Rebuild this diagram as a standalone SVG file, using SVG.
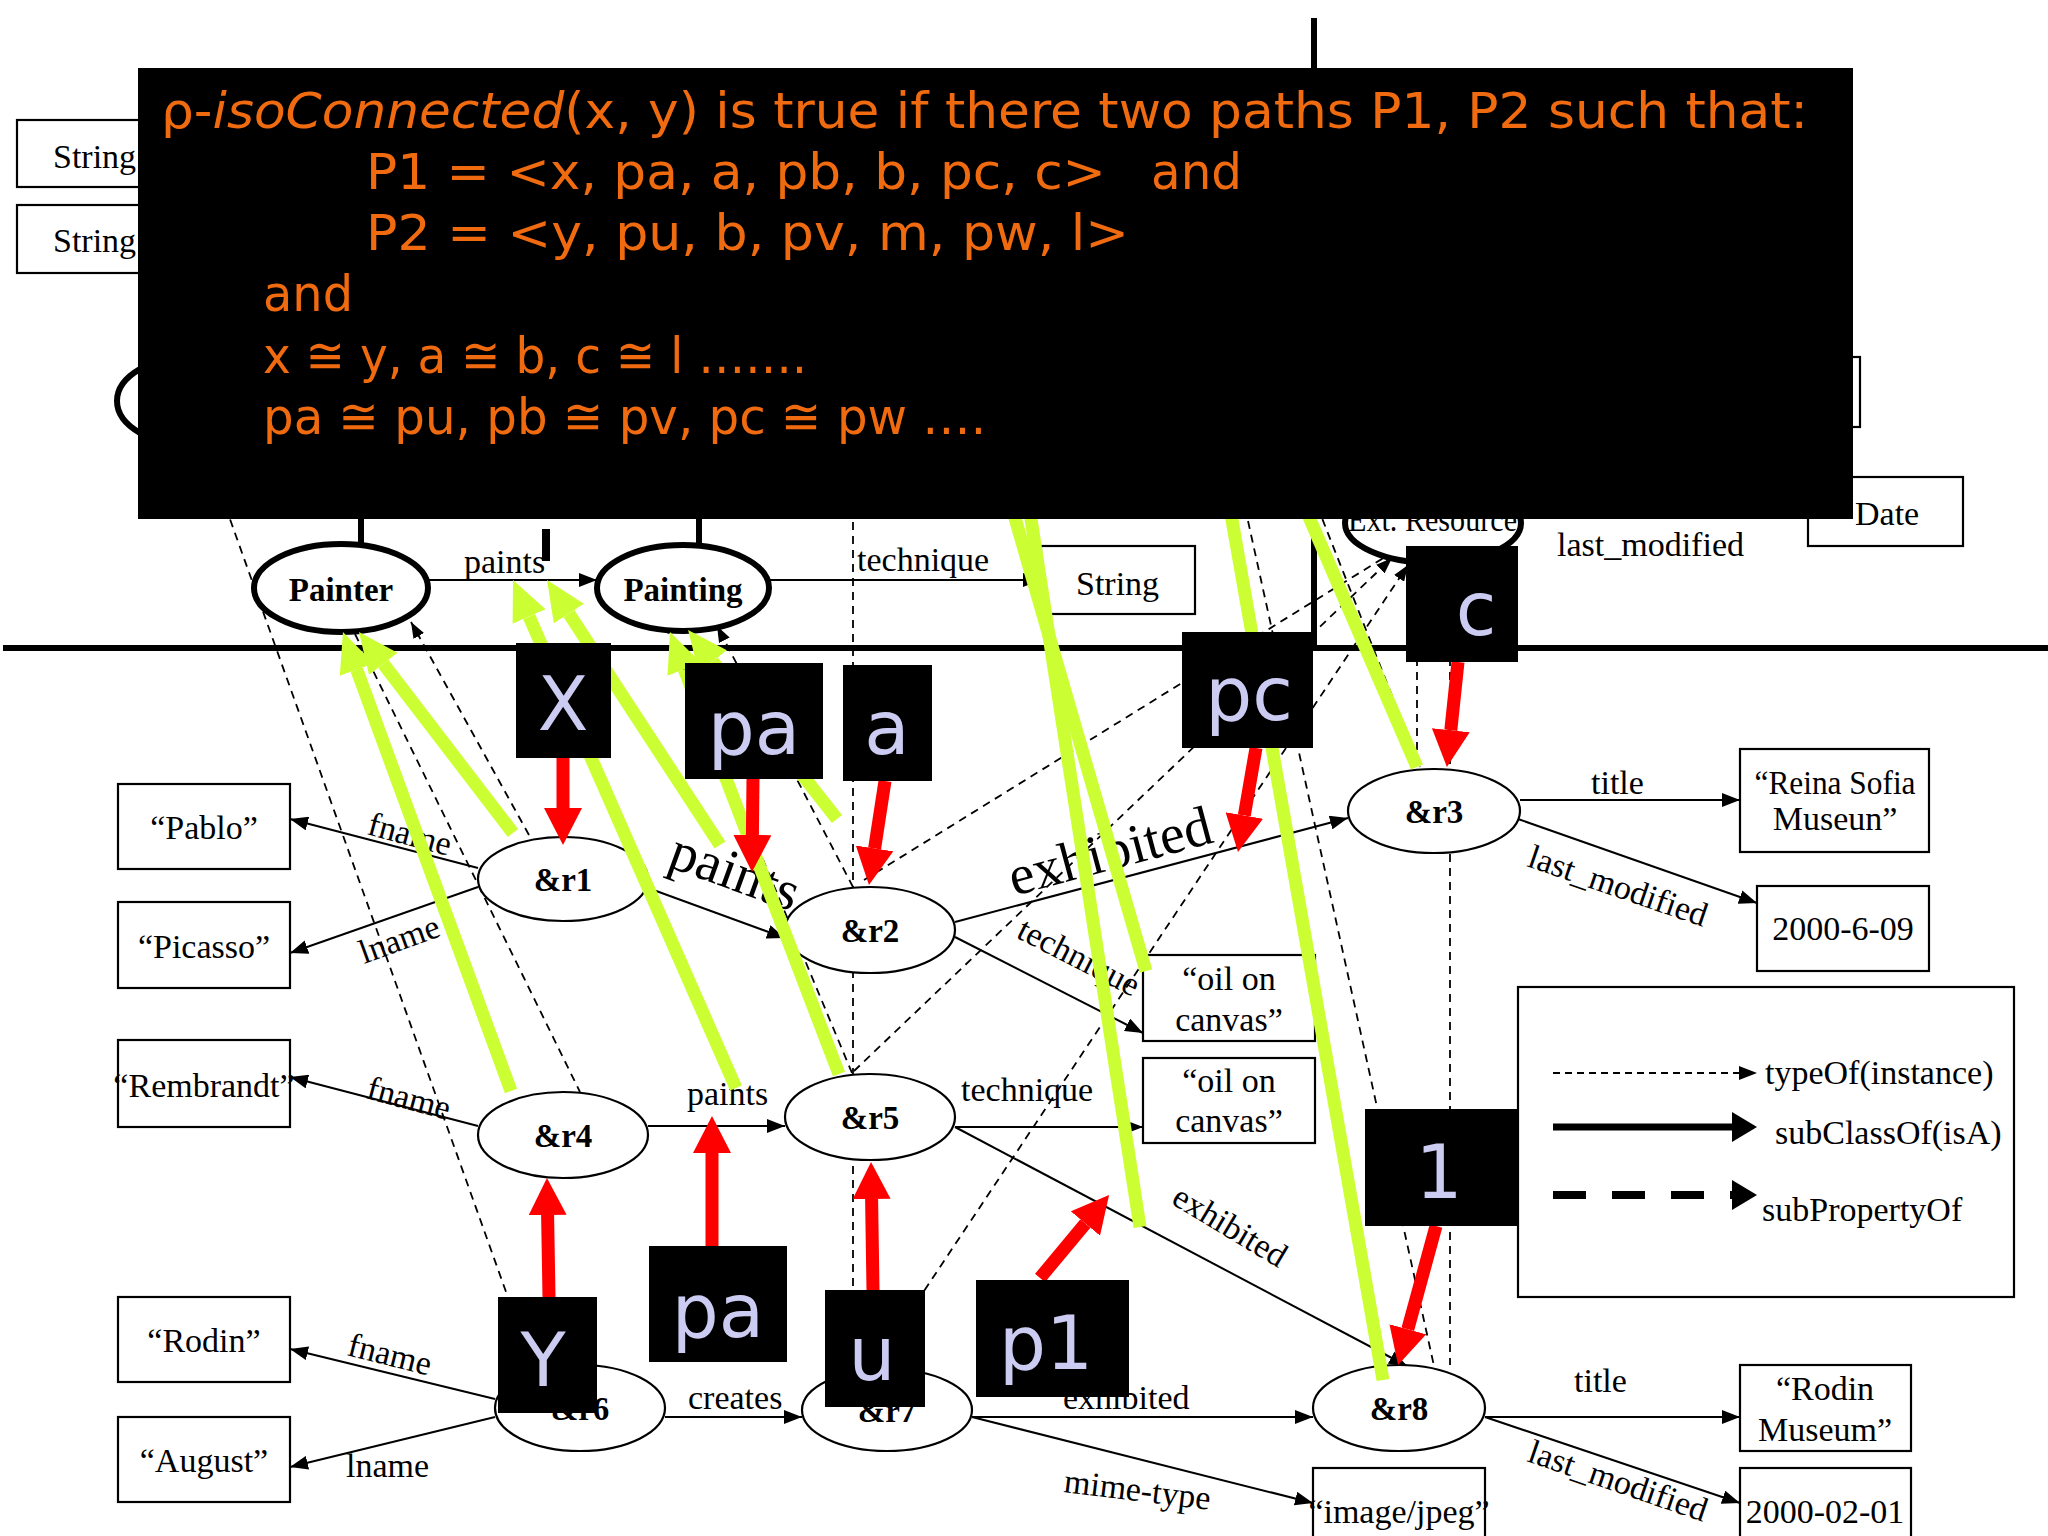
<svg xmlns="http://www.w3.org/2000/svg" width="2048" height="1536" viewBox="0 0 2048 1536">
<style>
.box{fill:#fff;stroke:#000;stroke-width:2.2}
.inst{fill:#fff;stroke:#000;stroke-width:2.2}
.cls{fill:#fff;stroke:#000;stroke-width:6}
.t{font-family:"Liberation Serif","Times New Roman",serif;font-size:34px;fill:#000}
.c{text-anchor:middle}
.b{font-weight:bold;font-size:33px}
.big{font-size:56px}
.edge{stroke:#000;stroke-width:2;fill:none;marker-end:url(#ah)}
.dash{stroke:#000;stroke-width:1.8;stroke-dasharray:8 6;fill:none}
.dasha{stroke:#000;stroke-width:1.8;stroke-dasharray:8 6;fill:none;marker-end:url(#dh)}
.green{stroke:#CCFF33;stroke-width:13;fill:none}
.greena{stroke:#CCFF33;stroke-width:13;fill:none;marker-end:url(#gh)}
.red{stroke:#FF0000;stroke-width:13;fill:none;marker-end:url(#rh)}
.thick{stroke:#000;stroke-width:6;fill:none}
.lb{fill:#000}
.lt{font-family:"DejaVu Sans",Verdana,sans-serif;font-size:74px;fill:#CCCCF2;text-anchor:middle}
.ot{font-family:"DejaVu Sans",Verdana,sans-serif;font-size:50px;fill:#F06A10}
</style>
<defs>
<marker id="ah" viewBox="0 0 18 14" refX="18" refY="7" markerWidth="18" markerHeight="14" markerUnits="userSpaceOnUse" orient="auto"><path d="M0,0L18,7L0,14z" fill="#000"/></marker>
<marker id="dh" viewBox="0 0 16 12" refX="16" refY="6" markerWidth="16" markerHeight="12" markerUnits="userSpaceOnUse" orient="auto"><path d="M0,0L16,6L0,12z" fill="#000"/></marker>
<marker id="rh" viewBox="0 -19 37 38" refX="0" refY="0" markerWidth="37" markerHeight="38" markerUnits="userSpaceOnUse" orient="auto"><path d="M0,-19L37,0L0,19z" fill="#FF0000"/></marker>
<marker id="gh" viewBox="0 -18 40 36" refX="0" refY="0" markerWidth="40" markerHeight="36" markerUnits="userSpaceOnUse" orient="auto"><path d="M0,-18L40,0L0,18z" fill="#CCFF33"/></marker>
</defs>
<rect width="2048" height="1536" fill="#fff"/>

<!-- schema layer (mostly hidden) -->
<g id="schema-left-string1"><rect class="box" x="17" y="120" width="200" height="67"/><text class="t" x="53" y="168">String</text></g>
<g id="schema-left-string2"><rect class="box" x="17" y="205" width="200" height="68"/><text class="t" x="53" y="252">String</text></g>
<g id="schema-left-class"><ellipse class="cls" cx="195" cy="401" rx="78" ry="45"/></g>
<g id="schema-right-box"><rect class="box" x="1700" y="357" width="160" height="70"/></g>
<g id="schema-date"><rect class="box" x="1808" y="477" width="155" height="69"/><text class="t" x="1855" y="525">Date</text></g>

<g id="connectors">
<line class="thick" x1="1314" y1="18" x2="1314" y2="648" stroke-width="5"/>
<line class="thick" x1="3" y1="648" x2="2048" y2="648"/>
<line class="thick" x1="361" y1="500" x2="361" y2="545"/>
<line class="thick" x1="699" y1="500" x2="699" y2="547"/>
<rect x="542" y="529" width="8" height="32" fill="#000"/>

<!-- typeOf dashed -->
<line class="dash" x1="216" y1="480" x2="525" y2="1345"/>
<line class="dash" x1="355" y1="634" x2="580" y2="1092"/>
<line class="dasha" x1="529" y1="835" x2="411" y2="622"/>
<line class="dasha" x1="853" y1="887" x2="717" y2="626"/>
<line class="dash" x1="852" y1="1073" x2="668" y2="632"/>
<line class="dash" x1="853" y1="480" x2="853" y2="1369"/>
<line class="dasha" x1="864" y1="880" x2="1398" y2="549"/>
<line class="dasha" x1="854" y1="1071" x2="1392" y2="558"/>
<line class="dasha" x1="870" y1="1372" x2="1408" y2="565"/>
<line class="dash" x1="1239" y1="480" x2="1434" y2="1366"/>
<line class="dash" x1="1417" y1="560" x2="1417" y2="767"/>
<line class="dash" x1="1307" y1="480" x2="1420" y2="767"/>
<line class="dash" x1="1450" y1="560" x2="1450" y2="1365"/>

<!-- schema edges -->
<line class="edge" x1="428" y1="580" x2="597" y2="580"/>
<line class="edge" x1="770" y1="580" x2="1041" y2="580"/>

<!-- instance edges -->
<line class="edge" x1="478" y1="868" x2="290" y2="819"/>
<line class="edge" x1="478" y1="887" x2="290" y2="953"/>
<line class="edge" x1="648" y1="888" x2="785" y2="938"/>
<line class="edge" x1="955" y1="922" x2="1348" y2="818"/>
<line class="edge" x1="955" y1="937" x2="1143" y2="1033"/>
<line class="edge" x1="478" y1="1126" x2="290" y2="1077"/>
<line class="edge" x1="648" y1="1126" x2="785" y2="1126"/>
<line class="edge" x1="955" y1="1127" x2="1143" y2="1127"/>
<line class="edge" x1="955" y1="1127" x2="1407" y2="1366"/>
<line class="edge" x1="495" y1="1399" x2="290" y2="1349"/>
<line class="edge" x1="495" y1="1417" x2="290" y2="1467"/>
<line class="edge" x1="665" y1="1417" x2="802" y2="1417"/>
<line class="edge" x1="972" y1="1417" x2="1313" y2="1417"/>
<line class="edge" x1="972" y1="1417" x2="1313" y2="1503"/>
<line class="edge" x1="1520" y1="800" x2="1740" y2="800"/>
<line class="edge" x1="1518" y1="819" x2="1757" y2="903"/>
<line class="edge" x1="1485" y1="1417" x2="1740" y2="1417"/>
<line class="edge" x1="1485" y1="1417" x2="1740" y2="1503"/>
</g>

<g id="edge-labels" class="t">
<text x="464" y="573">paints</text>
<text x="857" y="571">technique</text>
<text x="1557" y="556">last_modified</text>
<text x="366" y="834" transform="rotate(15 366 834)">fname</text>
<text x="364" y="964" transform="rotate(-20 364 964)">lname</text>
<text x="365" y="1098" transform="rotate(15 365 1098)">fname</text>
<text x="687" y="1105">paints</text>
<text x="961" y="1101">technique</text>
<text x="346" y="1355" transform="rotate(14 346 1355)">fname</text>
<text x="346" y="1477">lname</text>
<text x="688" y="1409">creates</text>
<text x="1063" y="1409">exhibited</text>
<text x="1063" y="1492" transform="rotate(7 1063 1492)">mime-type</text>
<text x="1591" y="794">title</text>
<text x="1526" y="866" transform="rotate(19 1526 866)">last_modified</text>
<text x="1574" y="1392">title</text>
<text x="1526" y="1461" transform="rotate(19 1526 1461)">last_modified</text>
<text x="1015" y="937" transform="rotate(27 1015 937)">technique</text>
<text x="1170" y="1203" transform="rotate(31 1170 1203)">exhibited</text>
<text class="big" x="666" y="866" transform="rotate(20 666 866)">paints</text>
<text class="big" x="1014" y="896" transform="rotate(-15 1014 896)">exhibited</text>
</g>

<!-- classes -->
<g id="Painter"><ellipse class="cls" cx="341" cy="588" rx="87" ry="44"/><text class="t b c" x="341" y="601">Painter</text></g>
<g id="Painting"><ellipse class="cls" cx="683" cy="588" rx="86" ry="43"/><text class="t b c" x="683" y="601">Painting</text></g>
<g id="String"><rect class="box" x="1041" y="546" width="154" height="68"/><text class="t" x="1076" y="595">String</text></g>
<g id="ExtResource"><ellipse class="cls" cx="1433" cy="523" rx="88" ry="40"/><text class="t" x="1348" y="531" font-size="30" textLength="169" lengthAdjust="spacingAndGlyphs">Ext. Resource</text></g>

<!-- instances -->
<g id="r1"><ellipse class="inst" cx="563" cy="879" rx="85" ry="42"/><text class="t b c" x="563" y="891">&amp;r1</text></g>
<g id="r2"><ellipse class="inst" cx="870" cy="930" rx="85" ry="43"/><text class="t b c" x="870" y="942">&amp;r2</text></g>
<g id="r3"><ellipse class="inst" cx="1434" cy="811" rx="86" ry="42"/><text class="t b c" x="1434" y="823">&amp;r3</text></g>
<g id="r4"><ellipse class="inst" cx="563" cy="1135" rx="85" ry="43"/><text class="t b c" x="563" y="1147">&amp;r4</text></g>
<g id="r5"><ellipse class="inst" cx="870" cy="1117" rx="85" ry="43"/><text class="t b c" x="870" y="1129">&amp;r5</text></g>
<g id="r6"><ellipse class="inst" cx="580" cy="1408" rx="85" ry="43"/><text class="t b c" x="580" y="1420">&amp;r6</text></g>
<g id="r7"><ellipse class="inst" cx="887" cy="1410" rx="85" ry="41"/><text class="t b c" x="887" y="1422">&amp;r7</text></g>
<g id="r8"><ellipse class="inst" cx="1399" cy="1408" rx="86" ry="43"/><text class="t b c" x="1399" y="1420">&amp;r8</text></g>

<!-- literals -->
<g id="Pablo"><rect class="box" x="118" y="784" width="172" height="85"/><text class="t c" x="204" y="839">“Pablo”</text></g>
<g id="Picasso"><rect class="box" x="118" y="902" width="172" height="86"/><text class="t c" x="204" y="958">“Picasso”</text></g>
<g id="Rembrandt"><rect class="box" x="118" y="1040" width="172" height="87"/><text class="t c" x="204" y="1097">“Rembrandt”</text></g>
<g id="Rodin"><rect class="box" x="118" y="1297" width="172" height="85"/><text class="t c" x="204" y="1352">“Rodin”</text></g>
<g id="August"><rect class="box" x="118" y="1417" width="172" height="85"/><text class="t c" x="204" y="1472">“August”</text></g>
<g id="ReinaSofia"><rect class="box" x="1740" y="749" width="189" height="103"/><text class="t c" x="1835" y="794" textLength="161" lengthAdjust="spacingAndGlyphs">“Reina Sofia</text><text class="t c" x="1835" y="830">Museun”</text></g>
<g id="date1"><rect class="box" x="1757" y="886" width="172" height="85"/><text class="t c" x="1843" y="940">2000-6-09</text></g>
<g id="oil1"><rect class="box" x="1143" y="955" width="172" height="86"/><text class="t c" x="1229" y="990">“oil on</text><text class="t c" x="1229" y="1031">canvas”</text></g>
<g id="oil2"><rect class="box" x="1143" y="1058" width="172" height="85"/><text class="t c" x="1229" y="1092">“oil on</text><text class="t c" x="1229" y="1132">canvas”</text></g>
<g id="RodinMuseum"><rect class="box" x="1740" y="1365" width="171" height="86"/><text class="t c" x="1825" y="1400">“Rodin</text><text class="t c" x="1825" y="1441">Museum”</text></g>
<g id="date2"><rect class="box" x="1740" y="1468" width="171" height="80"/><text class="t c" x="1825" y="1523">2000-02-01</text></g>
<g id="imagejpeg"><rect class="box" x="1313" y="1468" width="172" height="80"/><text class="t c" x="1399" y="1523">“image/jpeg”</text></g>

<!-- legend -->
<g id="legend">
<rect class="box" x="1518" y="987" width="496" height="310"/>
<line stroke="#000" stroke-width="2" stroke-dasharray="7 5" x1="1553" y1="1073" x2="1757" y2="1073" marker-end="url(#ah)"/>
<text class="t" x="1765" y="1084">typeOf(instance)</text>
<line stroke="#000" stroke-width="7" x1="1553" y1="1127" x2="1734" y2="1127"/>
<path d="M1732,1112L1757,1127L1732,1142z" fill="#000"/>
<text class="t" x="1775" y="1144">subClassOf(isA)</text>
<line stroke="#000" stroke-width="8" stroke-dasharray="33 26" x1="1553" y1="1195" x2="1734" y2="1195"/>
<path d="M1732,1180L1757,1195L1732,1210z" fill="#000"/>
<text class="t" x="1762" y="1221">subPropertyOf</text>
</g>

<!-- correspondence (green) -->
<g id="green-links">
<line class="greena" x1="511" y1="1091" x2="356.7" y2="669.6"/>
<line class="greena" x1="513" y1="833" x2="383.3" y2="663.8"/>
<line class="greena" x1="736" y1="1088" x2="529.1" y2="616.6"/>
<line class="greena" x1="720" y1="845" x2="568.9" y2="613.5"/>
<line class="greena" x1="839" y1="1074" x2="684.3" y2="669.4"/>
<line class="greena" x1="837" y1="819" x2="712.8" y2="661.4"/>
<line class="green" x1="1025" y1="480" x2="1140" y2="1227"/>
<line class="green" x1="1004" y1="480" x2="1146" y2="971"/>
<line class="green" x1="1225" y1="480" x2="1383" y2="1380"/>
<line class="green" x1="1293" y1="480" x2="1417" y2="767"/>
</g>

<!-- red pointers -->
<g id="red-pointers">
<line class="red" x1="563" y1="758" x2="563" y2="808"/>
<line class="red" x1="753" y1="779" x2="752.4" y2="835"/>
<line class="red" x1="885" y1="781" x2="874.6" y2="848.4"/>
<line class="red" x1="1256" y1="748" x2="1244.3" y2="815.5"/>
<line class="red" x1="1458" y1="662" x2="1450.8" y2="730.2"/>
<line class="red" x1="549" y1="1297" x2="547.6" y2="1215"/>
<line class="red" x1="712" y1="1246" x2="712" y2="1153"/>
<line class="red" x1="873" y1="1290" x2="871.6" y2="1199"/>
<line class="red" x1="1040" y1="1278" x2="1085.4" y2="1223.5"/>
<line class="red" x1="1436" y1="1226" x2="1407.8" y2="1329.3"/>
</g>

<!-- black tags -->
<g id="tag-X"><rect class="lb" x="516" y="643" width="95" height="115"/><text class="lt" x="563" y="730">X</text></g>
<g id="tag-pa1"><rect class="lb" x="685" y="663" width="138" height="116"/><text class="lt" x="754" y="754">pa</text></g>
<g id="tag-a"><rect class="lb" x="843" y="665" width="89" height="116"/><text class="lt" x="887" y="754">a</text></g>
<g id="tag-pc"><rect class="lb" x="1182" y="632" width="131" height="116"/><text class="lt" x="1249" y="720">pc</text></g>
<g id="tag-c"><rect class="lb" x="1406" y="546" width="112" height="116"/><text class="lt" x="1476" y="635">c</text></g>
<g id="tag-Y"><rect class="lb" x="498" y="1297" width="99" height="116"/><text class="lt" x="543" y="1386">Y</text></g>
<g id="tag-pa2"><rect class="lb" x="649" y="1246" width="138" height="116"/><text class="lt" x="718" y="1337">pa</text></g>
<g id="tag-u"><rect class="lb" x="825" y="1290" width="100" height="117"/><text class="lt" x="872" y="1380">u</text></g>
<g id="tag-p1"><rect class="lb" x="976" y="1280" width="153" height="117"/><text class="lt" x="1046" y="1369">p1</text></g>
<g id="tag-1"><rect class="lb" x="1365" y="1109" width="153" height="117"/><text class="lt" x="1439" y="1198">1</text></g>

<!-- definition panel -->
<g id="definition">
<rect x="138" y="68" width="1715" height="451" fill="#000"/>
<text class="ot" x="161" y="128" textLength="1647" lengthAdjust="spacingAndGlyphs">ρ-<tspan font-style="italic">isoConnected</tspan>(x, y) is true if there two paths P1, P2 such that:</text>
<text class="ot" x="366" y="189" textLength="740" lengthAdjust="spacingAndGlyphs">P1 = &lt;x, pa, a, pb, b, pc, c&gt;</text>
<text class="ot" x="1151" y="189" textLength="91" lengthAdjust="spacingAndGlyphs">and</text>
<text class="ot" x="366" y="250" textLength="763" lengthAdjust="spacingAndGlyphs">P2 = &lt;y, pu, b, pv, m, pw, l&gt;</text>
<text class="ot" x="263" y="311" textLength="90" lengthAdjust="spacingAndGlyphs">and</text>
<text class="ot" x="263" y="373" textLength="544" lengthAdjust="spacingAndGlyphs">x ≅ y, a ≅ b, c ≅ l …….</text>
<text class="ot" x="263" y="434" textLength="723" lengthAdjust="spacingAndGlyphs">pa ≅ pu, pb ≅ pv, pc ≅ pw ….</text>
</g>
</svg>
